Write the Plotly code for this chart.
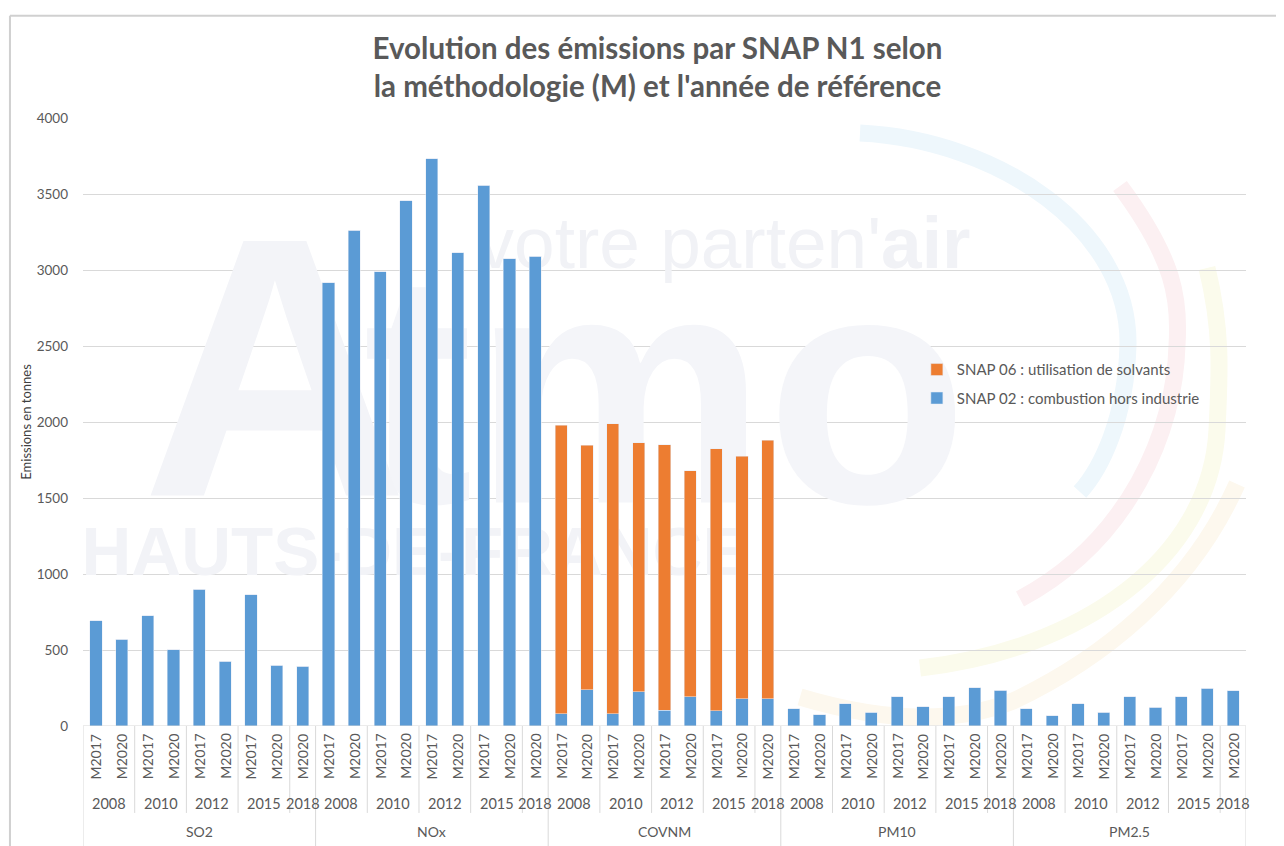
import plotly.graph_objects as go

# ---- data ----
pollutants = ["SO2", "NOx", "COVNM", "PM10", "PM2.5"]
years = ["2008", "2008", "2010", "2010", "2012", "2012", "2015", "2015", "2018"]
methods = ["M2017", "M2020", "M2017", "M2020", "M2017", "M2020", "M2017", "M2020", "M2020"]

snap02 = {
    "SO2":   [693, 570, 726, 502, 899, 426, 862, 401, 392],
    "NOx":   [2916, 3263, 2987, 3454, 3731, 3112, 3559, 3073, 3092],
    "COVNM": [81, 237, 81, 226, 105, 193, 99, 180, 180],
    "PM10":  [112, 73, 148, 90, 192, 128, 192, 253, 236],
    "PM2.5": [112, 68, 148, 90, 192, 123, 192, 247, 231],
}
snap06 = {
    "SO2":   [0, 0, 0, 0, 0, 0, 0, 0, 0],
    "NOx":   [0, 0, 0, 0, 0, 0, 0, 0, 0],
    "COVNM": [1899, 1610, 1906, 1636, 1746, 1485, 1725, 1594, 1700],
    "PM10":  [0, 0, 0, 0, 0, 0, 0, 0, 0],
    "PM2.5": [0, 0, 0, 0, 0, 0, 0, 0, 0],
}
yticks = [0, 500, 1000, 1500, 2000, 2500, 3000, 3500, 4000]

name02 = "SNAP 02 : combustion hors industrie"
name06 = "SNAP 06 : utilisation de solvants"
title = "Evolution des émissions par SNAP N1 selon<br>la méthodologie (M) et l'année de référence"

GRAY = "#595959"
LINE = "#d9d9d9"
FONT = "Lato"

# plot-area geometry (reference pixels) used only to place the faint logo
PX0, PX1, PY0, PY1 = 83, 1246, 726, 118


def px(x):
    return (x - PX0) / (PX1 - PX0)


def py(y):
    return (PY0 - y) / (PY0 - PY1)


# ---- build flat series ----
n_per = len(methods)
xs, v02, v06 = [], [], []
for pi, p in enumerate(pollutants):
    for mi in range(n_per):
        xs.append(pi * n_per + mi)
        v02.append(snap02[p][mi])
        v06.append(snap06[p][mi])

fig = go.Figure()

# faint background logo (on the base axes, under the bar axes)
logo = [
    ("<b>A</b>", px(275), py(403), 370, "#f3f4f8", "middle center"),
    ("<b>tmo</b>", px(968), py(420), 330, "#f4f5f9", "middle left"),
    ("votre parten'<b>air</b>", px(724), py(250), 73, "#f1f2f6", "middle center"),
    ("<b>HAUTS-DE-FRANCE</b>", px(415), py(558), 69, "#f2f3f7", "middle center"),
]
for t, lx, ly, sz, col, pos in logo:
    fig.add_trace(go.Scatter(x=[lx], y=[ly], mode="text", text=[t], textposition=pos,
                             textfont=dict(family="Liberation Sans", size=sz, color=col),
                             showlegend=False, hoverinfo="skip", xaxis="x", yaxis="y"))

fig.add_trace(go.Bar(x=xs, y=v02, name=name02, marker_color="#5b9bd5",
                     width=0.47, legendgroup="a", legendrank=2, xaxis="x2", yaxis="y2"))
fig.add_trace(go.Bar(x=xs, y=v06, name=name06, marker_color="#ed7d31",
                     width=0.47, legendgroup="b", legendrank=1, xaxis="x2", yaxis="y2"))

annotations = []
shapes = []

# faint coloured arcs of the logo
arcs = [
    ([(860, 133), (1000, 140), (1130, 230), (1128, 345), (1126, 420), (1100, 470), (1080, 492)], "#eef7fc"),
    ([(1120, 186), (1175, 260), (1180, 300), (1177, 345), (1175, 430), (1130, 540), (1020, 599)], "#fcf0f2"),
    ([(1207, 268), (1222, 330), (1220, 370), (1217, 430), (1210, 560), (1080, 650), (920, 668)], "#fbfbec"),
    ([(1237, 484), (1190, 590), (1100, 660), (1013, 701), (940, 730), (860, 715), (800, 697)], "#fdf8ee"),
]
for pts, col in arcs:
    p = pts
    path = "M {},{} C {},{} {},{} {},{} C {},{} {},{} {},{}".format(
        px(p[0][0]), py(p[0][1]), px(p[1][0]), py(p[1][1]), px(p[2][0]), py(p[2][1]),
        px(p[3][0]), py(p[3][1]), px(p[4][0]), py(p[4][1]), px(p[5][0]), py(p[5][1]),
        px(p[6][0]), py(p[6][1]))
    shapes.append(dict(type="path", path=path, xref="paper", yref="paper", layer="below",
                       line=dict(color=col, width=17)))

# category table
y_row1 = -0.143   # bottom of year separators
y_bot = -0.20     # bottom of pollutant separators
for pi, p in enumerate(pollutants):
    base = pi * n_per
    shapes.append(dict(type="line", xref="x2", yref="paper", x0=base - 0.5, x1=base - 0.5,
                       y0=0, y1=y_bot, line=dict(color=LINE, width=1)))
    annotations.append(dict(text=p, x=base + (n_per - 1) / 2, y=-0.174, xref="x2", yref="paper",
                            showarrow=False, font=dict(family=FONT, size=14, color=GRAY),
                            xanchor="center", yanchor="middle"))
    start = 0
    while start < n_per:
        end = start
        while end + 1 < n_per and years[end + 1] == years[start]:
            end += 1
        if start > 0:
            shapes.append(dict(type="line", xref="x2", yref="paper",
                               x0=base + start - 0.5, x1=base + start - 0.5,
                               y0=0, y1=y_row1, line=dict(color=LINE, width=1)))
        annotations.append(dict(text=years[start], x=base + (start + end) / 2, y=-0.127,
                                xref="x2", yref="paper", showarrow=False,
                                font=dict(family=FONT, size=14.5, color=GRAY),
                                xanchor="center", yanchor="middle"))
        start = end + 1
    for mi, m in enumerate(methods):
        annotations.append(dict(text=m, x=base + mi, y=-0.01, xref="x2", yref="paper",
                                showarrow=False, textangle=-90,
                                font=dict(family=FONT, size=14, color=GRAY),
                                xanchor="center", yanchor="top"))
last = len(pollutants) * n_per - 0.5
shapes.append(dict(type="line", xref="x2", yref="paper", x0=last, x1=last,
                   y0=0, y1=y_bot, line=dict(color=LINE, width=1)))
shapes.append(dict(type="line", xref="x2", yref="y2", x0=-0.5, x1=last, y0=0, y1=0,
                   line=dict(color=LINE, width=1)))
# outer chart frame (top and left)
shapes.append(dict(type="line", xref="paper", yref="paper", x0=-0.0628, x1=1.03,
                   y0=1.168, y1=1.168, line=dict(color="#d0d0d0", width=2)))
shapes.append(dict(type="line", xref="paper", yref="paper", x0=-0.0628, x1=-0.0628,
                   y0=1.168, y1=-0.2, line=dict(color="#d0d0d0", width=2)))

fig.update_layout(
    width=1276, height=838,
    margin=dict(l=75, r=38, t=110, b=120),
    paper_bgcolor="white", plot_bgcolor="rgba(0,0,0,0)",
    barmode="stack",
    title=dict(text="<b>" + title + "</b>", x=0.509, xanchor="center", y=0.939, yanchor="top",
               font=dict(family=FONT, size=29.5, color=GRAY)),
    xaxis=dict(range=[0, 1], visible=False, fixedrange=True),
    yaxis=dict(range=[0, 1], visible=False, fixedrange=True),
    xaxis2=dict(overlaying="x", side="bottom", range=[-0.5, last], showticklabels=False,
                showgrid=False, zeroline=False, showline=False, ticks=""),
    yaxis2=dict(overlaying="y", side="left", range=[0, 4000], tickvals=yticks, showgrid=True,
                gridcolor=LINE, gridwidth=1, zeroline=False, showline=False, ticks="",
                tickfont=dict(family=FONT, size=13.5, color=GRAY), ticklabelstandoff=14,
                title=dict(text="Emissions en tonnes", standoff=2,
                           font=dict(family=FONT, size=13, color="#404040"))),
    legend=dict(x=0.717, y=0.613, xanchor="left", yanchor="top",
                traceorder="grouped", tracegroupgap=6,
                font=dict(family=FONT, size=15, color=GRAY),
                bgcolor="rgba(0,0,0,0)", itemwidth=30),
    annotations=annotations,
    shapes=shapes,
    font=dict(family=FONT),
)

fig.write_html("out.html")
